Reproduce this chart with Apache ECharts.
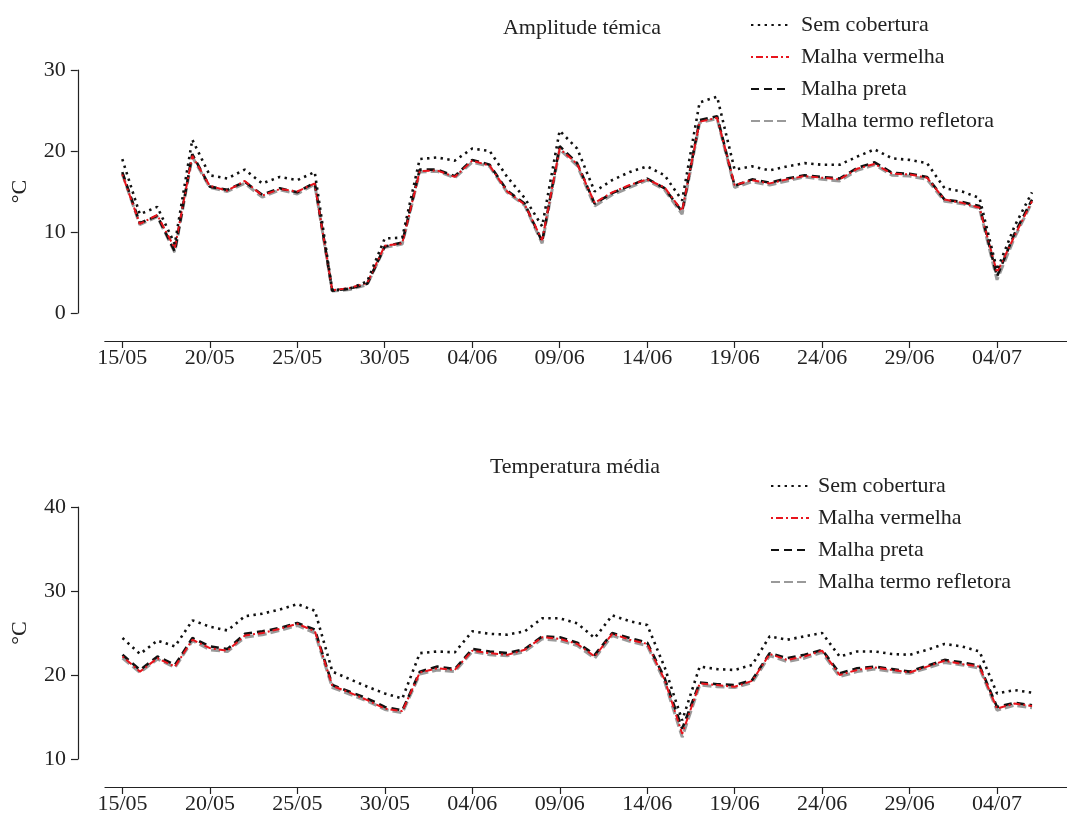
<!DOCTYPE html>
<html>
<head>
<meta charset="utf-8">
<script src="https://cdn.jsdelivr.net/npm/echarts@6/dist/echarts.min.js"></script>
<style>
  html, body { margin: 0; padding: 0; background: #fff; }
  #chart { width: 1067px; height: 819px; }
</style>
</head>
<body>
<div id="chart"></div>
<script>
// Daily readings, 15/05 to 06/07
const dates = ['15/05','16/05','17/05','18/05','19/05','20/05','21/05','22/05','23/05','24/05',
  '25/05','26/05','27/05','28/05','29/05','30/05','31/05','01/06','02/06','03/06',
  '04/06','05/06','06/06','07/06','08/06','09/06','10/06','11/06','12/06','13/06',
  '14/06','15/06','16/06','17/06','18/06','19/06','20/06','21/06','22/06','23/06',
  '24/06','25/06','26/06','27/06','28/06','29/06','30/06','01/07','02/07','03/07',
  '04/07','05/07','06/07'];

// Labelled ticks (day offsets from 15/05) and their labels
const tickDays = [0, 5, 10, 15, 20, 25, 30, 35, 40, 45, 50];
const tickLabels = ['15/05','20/05','25/05','30/05','04/06','09/06','14/06','19/06','24/06','29/06','04/07'];

const seriesNames = ['Sem cobertura', 'Malha vermelha', 'Malha preta', 'Malha termo refletora'];

// Amplitude térmica (°C)
const ampSem = [19.0,12.2,13.1,8.5,21.4,17.0,16.6,17.7,16.0,16.8,16.4,17.4,2.8,3.0,3.9,9.2,9.3,19.0,19.2,18.8,
  20.3,20.0,16.8,14.2,10.7,22.5,20.3,15.0,16.4,17.4,18.1,17.0,13.9,26.0,26.7,17.7,18.1,17.6,18.1,18.5,
  18.3,18.3,19.3,20.2,19.1,18.9,18.5,15.4,15.0,14.2,5.3,10.7,14.9];
const ampVermelha = [17.1,11.0,12.1,8.0,19.4,15.7,15.1,16.3,14.5,15.3,15.0,16.0,2.8,3.1,3.7,8.3,8.6,17.5,17.6,16.8,
  18.8,18.2,15.0,13.4,9.0,20.3,18.4,13.6,14.9,15.8,16.5,15.5,12.6,23.6,24.1,15.8,16.4,16.0,16.5,16.9,
  16.7,16.5,17.8,18.4,17.2,17.1,16.7,14.0,13.6,13.0,5.0,9.5,13.8];
const ampPreta = [17.4,11.1,12.0,7.6,19.6,15.6,15.2,16.2,14.6,15.4,14.9,16.1,2.75,3.0,3.6,8.2,8.7,17.7,17.7,16.9,
  18.9,18.3,15.1,13.5,8.8,20.6,18.5,13.5,14.8,15.7,16.6,15.4,12.5,23.8,24.3,15.7,16.5,16.1,16.6,17.0,
  16.8,16.6,17.9,18.6,17.3,17.2,16.8,14.0,13.7,13.2,4.5,9.8,14.0];
const ampRefletora = [17.2,10.9,11.9,7.5,19.3,15.5,15.0,16.0,14.3,15.2,14.7,15.9,2.7,2.9,3.5,8.1,8.5,17.4,17.5,16.7,
  18.6,18.1,14.9,13.3,8.6,20.2,18.2,13.2,14.6,15.5,16.4,15.2,12.2,23.5,24.0,15.5,16.2,15.8,16.3,16.8,
  16.5,16.3,17.6,18.3,17.0,16.9,16.5,13.8,13.5,12.9,4.1,9.3,13.7];

// Temperatura média (°C)
const medSem = [24.4,22.5,24.1,23.4,26.5,25.75,25.3,27.0,27.3,27.8,28.45,27.65,20.4,19.5,18.6,17.8,17.2,22.6,22.8,22.7,
  25.2,24.9,24.8,25.2,26.75,26.75,26.15,24.4,27.1,26.4,25.95,20.9,14.6,21.0,20.7,20.6,21.2,24.6,24.2,24.6,
  25.0,22.2,22.8,22.8,22.5,22.4,23.0,23.7,23.4,22.8,17.8,18.2,17.9];
const medVermelha = [22.2,20.4,22.0,21.0,24.2,23.2,22.9,24.7,25.0,25.5,26.1,25.2,18.7,17.9,17.0,16.0,15.7,20.3,20.8,20.6,
  22.9,22.6,22.4,23.0,24.5,24.3,23.7,22.2,24.9,24.2,23.7,19.4,13.0,19.0,18.8,18.6,19.3,22.5,21.8,22.2,
  22.9,20.0,20.6,20.9,20.6,20.3,21.0,21.7,21.3,21.0,16.0,16.6,16.3];
const medPreta = [22.4,20.6,22.2,21.2,24.4,23.4,23.1,24.9,25.2,25.6,26.2,25.4,18.8,18.0,17.2,16.2,15.8,20.4,21.0,20.7,
  23.1,22.8,22.6,23.1,24.6,24.5,23.85,22.4,25.0,24.4,23.85,19.6,13.6,19.1,18.9,18.8,19.4,22.6,22.0,22.4,
  23.0,20.2,20.8,21.0,20.7,20.4,21.1,21.8,21.5,21.1,16.2,16.7,16.4];
const medRefletora = [22.0,20.3,21.9,20.9,24.1,23.0,22.8,24.5,24.8,25.3,25.9,25.0,18.5,17.7,16.9,15.9,15.5,20.1,20.6,20.4,
  22.8,22.4,22.3,22.8,24.3,24.1,23.5,22.0,24.7,24.0,23.5,19.2,12.6,18.8,18.6,18.5,19.1,22.3,21.6,22.0,
  22.7,19.8,20.4,20.7,20.4,20.2,20.8,21.5,21.2,20.8,15.8,16.4,16.1];

const FONT = 'Liberation Serif';
const FS = 22;
const INK = '#222';

// Line looks: dotted black, red dot-dash, black dashes, grey dashes
const looks = {
  'Sem cobertura':         { color: '#111', width: 2.6, type: [2.4, 4.4], z: 5 },
  'Malha vermelha':        { color: '#e8141c', width: 2, type: [2, 3, 7, 3], z: 4 },
  'Malha preta':           { color: '#111', width: 2.6, type: [8, 5], z: 3 },
  'Malha termo refletora': { color: '#9a9a9a', width: 3, type: [9, 4], z: 2 }
};

function toPairs(arr) { return arr.map((v, i) => [i, v]); }

function makeSeries(gridIdx, valuesByName) {
  return ['Malha termo refletora', 'Malha preta', 'Malha vermelha', 'Sem cobertura'].map(name => {
    const lk = looks[name];
    return {
      name: name,
      type: 'line',
      xAxisIndex: gridIdx,
      yAxisIndex: gridIdx,
      data: toPairs(valuesByName[name]),
      symbol: 'none',
      z: lk.z,
      color: lk.color,
      lineStyle: { color: lk.color, width: lk.width, type: lk.type, cap: 'butt' },
      animation: false
    };
  });
}

function xAxisFor(gridIdx, offset) {
  return {
    type: 'value', gridIndex: gridIdx, min: -1, max: 54,
    offset: offset,
    splitLine: { show: false },
    axisLine: { show: true, onZero: false, lineStyle: { color: INK, width: 1.2 } },
    axisTick: { show: true, length: 7, lineStyle: { color: INK, width: 1.2 }, customValues: tickDays },
    axisLabel: {
      color: INK, fontFamily: FONT, fontSize: FS, margin: 6,
      customValues: tickDays,
      formatter: v => tickLabels[tickDays.indexOf(v)]
    }
  };
}

function yAxisFor(gridIdx, min, max) {
  return {
    type: 'value', gridIndex: gridIdx, min: min, max: max, interval: 10,
    offset: 27,
    name: '°C', nameLocation: 'middle', nameRotate: 90, nameGap: 47,
    nameTextStyle: { color: INK, fontFamily: FONT, fontSize: FS },
    splitLine: { show: false },
    axisLine: { show: true, onZero: false, lineStyle: { color: INK, width: 1.2 } },
    axisTick: { show: true, length: 7, lineStyle: { color: INK, width: 1.2 } },
    axisLabel: { color: INK, fontFamily: FONT, fontSize: FS, margin: 12 }
  };
}

function legendAt(left, top, textPad) {
  return {
    orient: 'vertical', left: left, top: top, padding: 0,
    data: seriesNames,
    itemWidth: 38, itemHeight: 14, itemGap: 10,
    itemStyle: { opacity: 0, borderWidth: 0 },
    textStyle: { color: INK, fontFamily: FONT, fontSize: FS, padding: [0, 0, 0, textPad] }
  };
}

const chart = echarts.init(document.getElementById('chart'), null, { renderer: 'canvas' });
chart.setOption({
  backgroundColor: '#fff',
  animation: false,
  title: [
    { text: 'Amplitude témica', left: 582, top: 17, textAlign: 'center', padding: 0,
      textStyle: { color: INK, fontFamily: FONT, fontSize: FS, fontWeight: 'normal' } },
    { text: 'Temperatura média', left: 575, top: 456, textAlign: 'center', padding: 0,
      textStyle: { color: INK, fontFamily: FONT, fontSize: FS, fontWeight: 'normal' } }
  ],
  legend: [legendAt(750, 14, 7), legendAt(770, 475, 4)],
  grid: [
    { left: 104.8, top: 70, width: 964.2, height: 243 },
    { left: 105.0, top: 507, width: 973, height: 252 }
  ],
  xAxis: [xAxisFor(0, 28), xAxisFor(1, 28)],
  yAxis: [yAxisFor(0, 0, 30), yAxisFor(1, 10, 40)],
  series: [
    ...makeSeries(0, {
      'Sem cobertura': ampSem, 'Malha vermelha': ampVermelha,
      'Malha preta': ampPreta, 'Malha termo refletora': ampRefletora
    }),
    ...makeSeries(1, {
      'Sem cobertura': medSem, 'Malha vermelha': medVermelha,
      'Malha preta': medPreta, 'Malha termo refletora': medRefletora
    })
  ]
});
</script>
</body>
</html>
